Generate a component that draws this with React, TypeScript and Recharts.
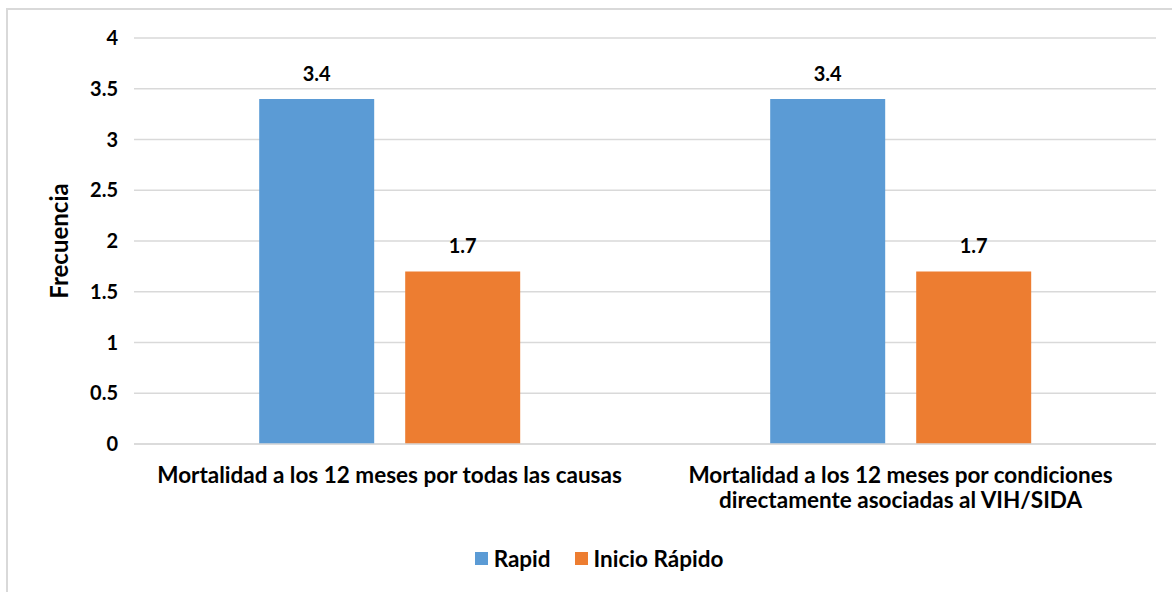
import React from 'react';
import { BarChart, Bar, XAxis, YAxis, CartesianGrid, Legend, LabelList, Label } from 'recharts';

const categories = [
  'Mortalidad a los 12 meses por todas las causas',
  'Mortalidad a los 12 meses por condiciones directamente asociadas al VIH/SIDA',
];
const categoryLines = [
  ['Mortalidad a los 12 meses por todas las causas'],
  ['Mortalidad a los 12 meses por condiciones', 'directamente asociadas al VIH/SIDA'],
];
const rapidValues = [3.4, 3.4];
const inicioRapidoValues = [1.7, 1.7];
const yTicks = [0, 0.5, 1, 1.5, 2, 2.5, 3, 3.5, 4];
const seriesNames = ['Rapid', 'Inicio Rápido'];
const yAxisTitle = 'Frecuencia';

const data = categories.map((c, i) => ({
  category: c,
  rapid: rapidValues[i],
  inicio: inicioRapidoValues[i],
}));

const FONT = 'Lato, "Open Sans", sans-serif';
const FS = 20;
const FS_TEXT = 22.5;
const BLUE = '#5B9BD5';
const ORANGE = '#ED7D31';
const GRID = '#D9D9D9';

const numStyle = { fontFamily: FONT, fontSize: FS, fontWeight: 700, fill: '#000' };
const txtStyle = { fontFamily: FONT, fontSize: FS_TEXT, fontWeight: 700, fill: '#000' };

const CategoryTick = (props: any) => {
  const { x, y, payload, index } = props;
  const lines = categoryLines[index] || [payload.value];
  return (
    <text x={x} y={y} textAnchor="middle" style={txtStyle}>
      {lines.map((l: string, i: number) => (
        <tspan key={i} x={x} dy={i === 0 ? 31 : 25}>
          {l}
        </tspan>
      ))}
    </text>
  );
};

const LegendContent = () => (
  <div
    style={{
      display: 'flex',
      justifyContent: 'center',
      alignItems: 'center',
      height: 24,
      paddingLeft: 18,
      fontFamily: FONT,
      fontSize: FS_TEXT,
      fontWeight: 700,
      color: '#000',
    }}
  >
    {[BLUE, ORANGE].map((col, i) => (
      <div key={i} style={{ display: 'flex', alignItems: 'center', marginRight: i === 0 ? 24 : 0 }}>
        <span style={{ display: 'inline-block', width: 13, height: 13, background: col, marginRight: 6 }} />
        <span>{seriesNames[i]}</span>
      </div>
    ))}
  </div>
);

export default function App() {
  return (
    <div
      style={{
        position: 'absolute',
        left: 6,
        top: 8,
        width: 1166,
        height: 584,
        borderTop: `2px solid ${GRID}`,
        borderLeft: `2px solid ${GRID}`,
        boxSizing: 'border-box',
        background: '#fff',
      }}
    >
      <BarChart
        width={1164}
        height={582}
        data={data}
        margin={{ top: 28, right: 16, bottom: 44, left: 0 }}
        barCategoryGap="24.5%"
        barGap={31}
      >
        <CartesianGrid vertical={false} stroke={GRID} strokeWidth={1.5} />
        <XAxis
          dataKey="category"
          axisLine={{ stroke: GRID, strokeWidth: 1.5 }}
          tickLine={false}
          height={80}
          interval={0}
          tick={<CategoryTick />}
        />
        <YAxis
          domain={[0, 4]}
          ticks={yTicks}
          width={126}
          axisLine={false}
          tickLine={false}
          tickSize={0}
          tickMargin={16}
          tick={numStyle}
        >
          <Label
            content={(p: any) => {
              const vb = p.viewBox;
              const cx = 50;
              const cy = vb.y + vb.height / 2;
              return (
                <text
                  x={cx}
                  y={cy}
                  transform={`rotate(-90 ${cx} ${cy})`}
                  textAnchor="middle"
                  dominantBaseline="central"
                  style={{ ...txtStyle, fontSize: 24 }}
                >
                  {yAxisTitle}
                </text>
              );
            }}
          />
        </YAxis>
        <Legend
          content={<LegendContent />}
          wrapperStyle={{ top: 536, left: 0, width: 1164, height: 24 }}
        />
        <Bar dataKey="rapid" name={seriesNames[0]} fill={BLUE} isAnimationActive={false}>
          <LabelList dataKey="rapid" position="top" offset={18} style={numStyle} />
        </Bar>
        <Bar dataKey="inicio" name={seriesNames[1]} fill={ORANGE} isAnimationActive={false}>
          <LabelList dataKey="inicio" position="top" offset={18} style={numStyle} />
        </Bar>
      </BarChart>
    </div>
  );
}
